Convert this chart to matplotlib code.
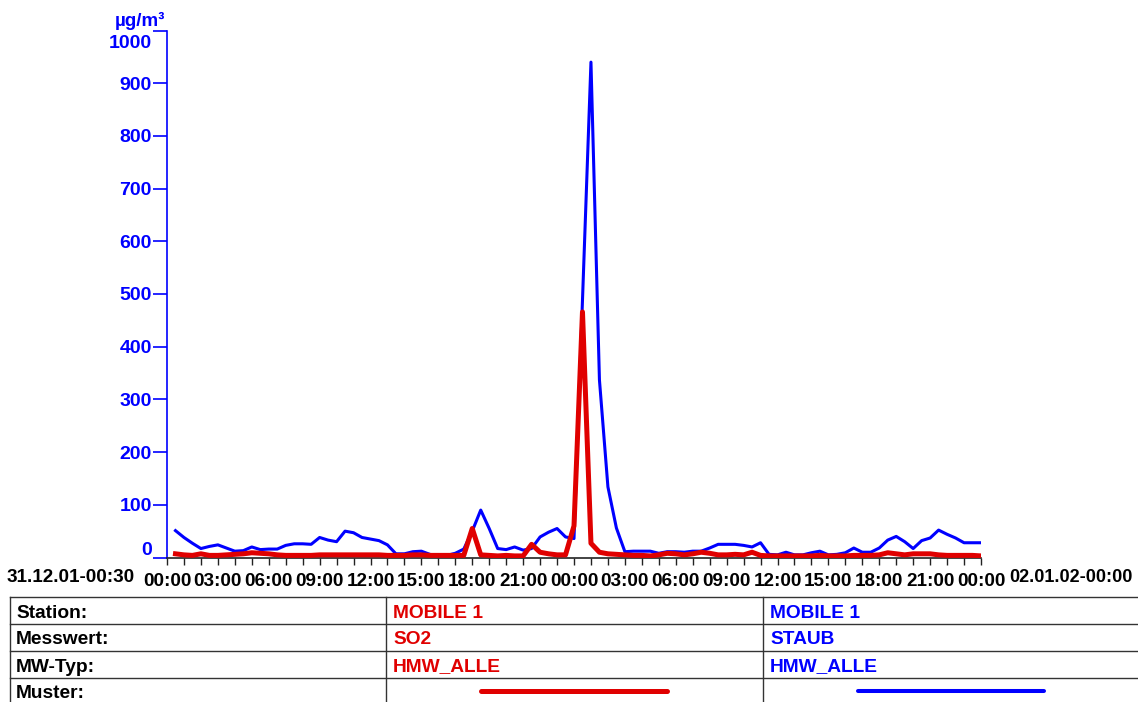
import matplotlib
matplotlib.use("Agg")
import matplotlib.pyplot as plt
import matplotlib.dates as mdates
import matplotlib.transforms as mtrans
import pandas as pd

plt.rcParams["font.family"] = ["Liberation Sans", "DejaVu Sans"]
plt.rcParams["font.weight"] = "bold"

BLUE = "#0000ff"
RED = "#e00000"

# half-hour means, 31.12.01 00:30 .. 02.01.02 00:00
times = pd.date_range("2001-12-31 00:30", periods=96, freq="30min")

staub = [51, 38, 27, 17, 21, 24, 18, 12, 13, 20, 15, 16, 16, 23, 26, 26,
         25, 38, 33, 30, 50, 47, 38, 35, 32, 24, 7, 7, 11, 12, 6, 3,
         4, 8, 16, 50, 90, 55, 17, 15, 20, 14, 17, 39, 48, 55, 39, 36,
         488, 940, 337, 134, 56, 11, 12, 12, 12, 8, 11, 11, 10, 12, 12, 18,
         25, 25, 25, 23, 20, 28, 6, 5, 10, 5, 5, 9, 12, 5, 6, 9,
         18, 10, 10, 18, 33, 40, 30, 17, 32, 37, 52, 44, 37, 28, 28, 28]

so2 = [7, 5, 4, 7, 4, 4, 5, 6, 7, 9, 8, 7, 5, 4, 4, 4,
       4, 5, 5, 5, 5, 5, 5, 5, 5, 4, 4, 4, 5, 5, 4, 4,
       4, 4, 4, 55, 5, 4, 3, 4, 3, 3, 25, 10, 7, 5, 5, 60,
       466, 27, 10, 7, 6, 5, 4, 4, 3, 5, 8, 7, 5, 7, 10, 8,
       5, 5, 6, 5, 10, 4, 3, 3, 3, 3, 3, 3, 4, 3, 3, 3,
       4, 4, 4, 5, 9, 7, 5, 7, 7, 7, 5, 4, 4, 4, 4, 3]

y_ticks = [0, 100, 200, 300, 400, 500, 600, 700, 800, 900, 1000]

table_rows = ["Station:", "Messwert:", "MW-Typ:", "Muster:"]
so2_info = ["MOBILE 1", "SO2", "HMW_ALLE"]
staub_info = ["MOBILE 1", "STAUB", "HMW_ALLE"]

W, H = 1138, 702
fig = plt.figure(figsize=(W / 100, H / 100), dpi=100)

# pixel-space overlay for the legend table
tab = fig.add_axes([0, 0, 1, 1])
tab.set_xlim(0, W)
tab.set_ylim(H, 0)
tab.axis("off")

ax = fig.add_axes([167 / W, (H - 557.5) / H, 814 / W, 527 / H])
ax.patch.set_alpha(0)

ax.plot(times, staub, color=BLUE, lw=2.2, solid_joinstyle="round", zorder=3)
ax.plot(times, so2, color=RED, lw=3.6, solid_joinstyle="round", zorder=4)

ax.set_xlim(pd.Timestamp("2001-12-31 00:00"), pd.Timestamp("2002-01-02 00:00"))
ax.set_ylim(0, 1000)

for s in ("top", "right"):
    ax.spines[s].set_visible(False)
ax.spines["left"].set_color(BLUE)
ax.spines["left"].set_linewidth(1.2)
ax.spines["bottom"].set_color("#222222")
ax.spines["bottom"].set_linewidth(1.2)

ax.set_yticks(y_ticks)
ax.set_yticklabels([str(v) for v in y_ticks])
ax.tick_params(axis="y", colors=BLUE, length=10, width=1.2, pad=1,
               labelsize=14, labelcolor=BLUE)
for lab in ax.get_yticklabels():
    lab.set_fontweight("bold")
# first and last labels sit inside the axis range
ylabs = ax.get_yticklabels()
ylabs[0].set_transform(ylabs[0].get_transform() +
                       mtrans.ScaledTranslation(0, 9 / 100, fig.dpi_scale_trans))
ylabs[-1].set_transform(ylabs[-1].get_transform() +
                        mtrans.ScaledTranslation(0, -11 / 100, fig.dpi_scale_trans))

ax.xaxis.set_major_locator(mdates.HourLocator(byhour=range(0, 24, 3)))
ax.xaxis.set_major_formatter(mdates.DateFormatter("%H:%M"))
ax.xaxis.set_minor_locator(mdates.HourLocator())
ax.tick_params(axis="x", which="both", colors="#222222", length=5, width=1.0)
ax.tick_params(axis="x", which="major", labelsize=13.6, pad=6, labelcolor="black")
for lab in ax.get_xticklabels():
    lab.set_fontweight("bold")

fig.text(7 / W, 1 - 577 / H, "31.12.01-00:30", fontsize=13.6, fontweight="bold",
         ha="left", va="center")
fig.text(1009 / W, 1 - 577 / H, "02.01.02-00:00", fontsize=13.0, fontweight="bold",
         ha="left", va="center")
fig.text(165 / W, 1 - 21 / H, "µg/m³", fontsize=13.5, fontweight="bold",
         color=BLUE, ha="right", va="center")

# legend table
grid = "#333333"
row_lines = [597, 624, 651, 678]
for y in row_lines:
    tab.plot([10, W], [y, y], color=grid, lw=1.0)
for x in (10, 386, 763):
    tab.plot([x, x], [597, H], color=grid, lw=1.0)

row_mid = [613.5, 640, 667, 693]
for name, y in zip(table_rows, row_mid):
    tab.text(16, y, name, fontsize=13.8, fontweight="bold", va="center", ha="left")
for txt, y in zip(so2_info, row_mid):
    tab.text(393, y, txt, fontsize=13.8, fontweight="bold", color=RED,
             va="center", ha="left")
for txt, y in zip(staub_info, row_mid):
    tab.text(770, y, txt, fontsize=13.8, fontweight="bold", color=BLUE,
             va="center", ha="left")
tab.plot([481, 667], [691, 691], color=RED, lw=3.6, solid_capstyle="round")
tab.plot([858, 1044], [691, 691], color=BLUE, lw=2.9, solid_capstyle="round")

fig.savefig("out.png", dpi=100, facecolor="white")
